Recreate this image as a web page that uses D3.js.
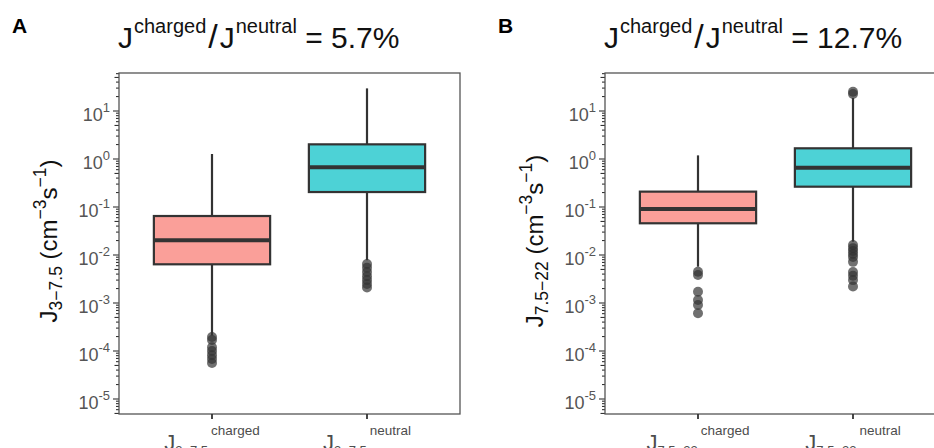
<!DOCTYPE html>
<html>
<head>
<meta charset="utf-8">
<script src="https://cdn.jsdelivr.net/npm/d3@7"></script>
<style>
  body { margin: 0; background: #fff; }
  text { font-family: "Liberation Sans", Arial, sans-serif; }
</style>
</head>
<body>
<svg id="chart"></svg>
<script>
// Box statistics: [lower whisker, Q1, median, Q3, upper whisker]
const groups = ['charged', 'neutral'];
const panelLetters = ['A', 'B'];
const ratioLabels = ['5.7%', '12.7%'];
const rangeLabels = ['3\u22127.5', '7.5\u221222'];

const aChargedBox = [2.1e-4, 0.0064, 0.0202, 0.0649, 1.27];
const aNeutralBox = [0.0078, 0.205, 0.67, 2.02, 29.6];
const bChargedBox = [0.0057, 0.0458, 0.091, 0.209, 1.19];
const bNeutralBox = [0.019, 0.265, 0.659, 1.67, 18.7];

const aChargedOut = [1.96e-4, 1.7e-4, 1.2e-4, 1.0e-4, 8.2e-5, 6.8e-5, 5.6e-5];
const aNeutralOut = [0.0065, 0.0054, 0.0044, 0.0036, 0.0030, 0.0025, 0.0021];
const bChargedOut = [0.00449, 0.00383, 0.00172, 0.00115, 0.00091, 0.00061];
const bNeutralOut = [25.2, 22.6, 0.0162, 0.0139, 0.0121, 0.0105, 0.0091, 0.0072, 0.0044, 0.0037, 0.0030, 0.0022];

const yExponents = [-5, -4, -3, -2, -1, 0, 1];

const fills = {charged: '#fa9f99', neutral: '#4dd2d6'};

const panels = [
  {letter: panelLetters[0], ratio: ratioLabels[0], range: rangeLabels[0],
   boxes: {charged: aChargedBox, neutral: aNeutralBox},
   outliers: {charged: aChargedOut, neutral: aNeutralOut}},
  {letter: panelLetters[1], ratio: ratioLabels[1], range: rangeLabels[1],
   boxes: {charged: bChargedBox, neutral: bNeutralBox},
   outliers: {charged: bChargedOut, neutral: bNeutralOut}}
];

const config = {
  width: 934, height: 448,
  plotW: 341, plotH: 341, top: 73,
  lefts: [119, 605]
};

const svg = d3.select('#chart')
    .attr('width', config.width)
    .attr('height', config.height);

// Shared log scale (limits)
const yScale = d3.scaleLog()
    .domain([Math.pow(10, -5.3125), Math.pow(10, 1.7917)])
    .range([config.plotH, 0]);

const xScale = d3.scalePoint()
    .domain(groups)
    .range([0, config.plotW])
    .padding(0.6);
const boxW = xScale.step() * 0.75;

// all log tick values inside the domain
const logTicks = [];
for (let e = -6; e <= 1; e++) {
  for (let k = 1; k <= 9; k++) {
    const v = k * Math.pow(10, e);
    if (v >= yScale.domain()[0] && v <= yScale.domain()[1]) logTicks.push({v: v, k: k});
  }
}

panels.forEach((p, i) => {
  const left = config.lefts[i];
  const off = left - config.lefts[0];

  // Panel letter
  svg.append('text')
      .attr('x', 12 + off)
      .attr('y', 33)
      .style('font-size', '21px')
      .style('font-weight', 'bold')
      .text(p.letter);

  // Title: J^charged / J^neutral = x%
  const title = svg.append('text')
      .attr('x', left - 1)
      .attr('y', 48)
      .style('font-size', '30px')
      .attr('fill', '#111');
  title.append('tspan').text('J');
  title.append('tspan').attr('dy', -15).attr('dx', 1).style('font-size', '20px').text('charged');
  title.append('tspan').attr('dy', 15).attr('dx', 2).style('font-size', '34px').text('/');
  title.append('tspan').attr('dx', 2).text('J');
  title.append('tspan').attr('dy', -15).attr('dx', 1).style('font-size', '20px').text('neutral');
  title.append('tspan').attr('dy', 15).text(' = ' + p.ratio);

  const g = svg.append('g')
      .attr('transform', `translate(${left},${config.top})`);

  // Log ticks outside the left border
  g.selectAll('.logtick')
    .data(logTicks)
    .join('line')
      .attr('class', 'logtick')
      .attr('x1', d => d.k === 1 ? -6 : (d.k === 5 ? -4.5 : -3))
      .attr('x2', 0)
      .attr('y1', d => yScale(d.v))
      .attr('y2', d => yScale(d.v))
      .attr('stroke', '#333')
      .attr('stroke-width', 1.1);

  // Tick labels 10^n
  const labels = g.selectAll('.ylab')
    .data(yExponents)
    .join('text')
      .attr('class', 'ylab')
      .attr('x', -9)
      .attr('y', d => yScale(Math.pow(10, d)) + 10)
      .attr('text-anchor', 'end')
      .attr('fill', '#555')
      .style('font-size', '18px');
  labels.append('tspan').text('10');
  labels.append('tspan')
      .attr('dy', -9)
      .style('font-size', '13px')
      .text(d => d < 0 ? '-' + Math.abs(d) : String(d));

  // Y axis title
  const yTitle = svg.append('text')
      .attr('transform', `translate(${57 + off},${241}) rotate(-90)`)
      .attr('text-anchor', 'middle')
      .style('font-size', '24px')
      .attr('fill', '#111');
  yTitle.append('tspan').text('J');
  yTitle.append('tspan').attr('dy', 5).style('font-size', '17.5px').text(p.range);
  yTitle.append('tspan').attr('dy', -5).text(' (cm');
  yTitle.append('tspan').attr('dy', -11).style('font-size', '17.5px').text('\u22123');
  yTitle.append('tspan').attr('dy', 11).text('s');
  yTitle.append('tspan').attr('dy', -11).style('font-size', '17.5px').text('\u22121');
  yTitle.append('tspan').attr('dy', 11).text(')');

  // Whiskers
  groups.forEach(grp => {
    const s = p.boxes[grp];
    const cx = xScale(grp);
    g.append('line')
        .attr('x1', cx).attr('x2', cx)
        .attr('y1', yScale(s[4])).attr('y2', yScale(s[3]))
        .attr('stroke', '#333').attr('stroke-width', 2.2);
    g.append('line')
        .attr('x1', cx).attr('x2', cx)
        .attr('y1', yScale(s[1])).attr('y2', yScale(s[0]))
        .attr('stroke', '#333').attr('stroke-width', 2.2);
  });

  // Boxes
  g.selectAll('.box')
    .data(groups)
    .join('rect')
      .attr('class', 'box')
      .attr('x', d => xScale(d) - boxW / 2)
      .attr('width', boxW)
      .attr('y', d => yScale(p.boxes[d][3]))
      .attr('height', d => yScale(p.boxes[d][1]) - yScale(p.boxes[d][3]))
      .attr('fill', d => fills[d])
      .attr('stroke', '#333')
      .attr('stroke-width', 2.2);

  // Medians
  g.selectAll('.median')
    .data(groups)
    .join('line')
      .attr('class', 'median')
      .attr('x1', d => xScale(d) - boxW / 2)
      .attr('x2', d => xScale(d) + boxW / 2)
      .attr('y1', d => yScale(p.boxes[d][2]))
      .attr('y2', d => yScale(p.boxes[d][2]))
      .attr('stroke', '#333')
      .attr('stroke-width', 4);

  // Outliers
  groups.forEach(grp => {
    g.selectAll('.out-' + grp)
      .data(p.outliers[grp])
      .join('circle')
        .attr('class', 'out-' + grp)
        .attr('cx', xScale(grp))
        .attr('cy', d => yScale(d))
        .attr('r', 5)
        .attr('fill', '#333')
        .attr('fill-opacity', 0.7);
  });

  // Panel border
  g.append('rect')
      .attr('width', config.plotW)
      .attr('height', config.plotH)
      .attr('fill', 'none')
      .attr('stroke', '#555')
      .attr('stroke-width', 1.3);

  // X ticks
  g.selectAll('.xtick')
    .data(groups)
    .join('line')
      .attr('class', 'xtick')
      .attr('x1', d => xScale(d)).attr('x2', d => xScale(d))
      .attr('y1', config.plotH).attr('y2', config.plotH + 5)
      .attr('stroke', '#333')
      .attr('stroke-width', 1.8);

  // X labels J_range^group
  const xl = g.selectAll('.xlab')
    .data(groups)
    .join('text')
      .attr('class', 'xlab')
      .attr('x', d => xScale(d))
      .attr('y', config.plotH + 36)
      .attr('text-anchor', 'middle')
      .attr('fill', '#4d4d4d')
      .style('font-size', '22px');
  xl.append('tspan').text('J');
  xl.append('tspan').attr('dy', 5).style('font-size', '13px').text(p.range);
  xl.append('tspan').attr('dy', -20).attr('dx', 3).style('font-size', '13.5px').text(d => d);
});
</script>
</body>
</html>
